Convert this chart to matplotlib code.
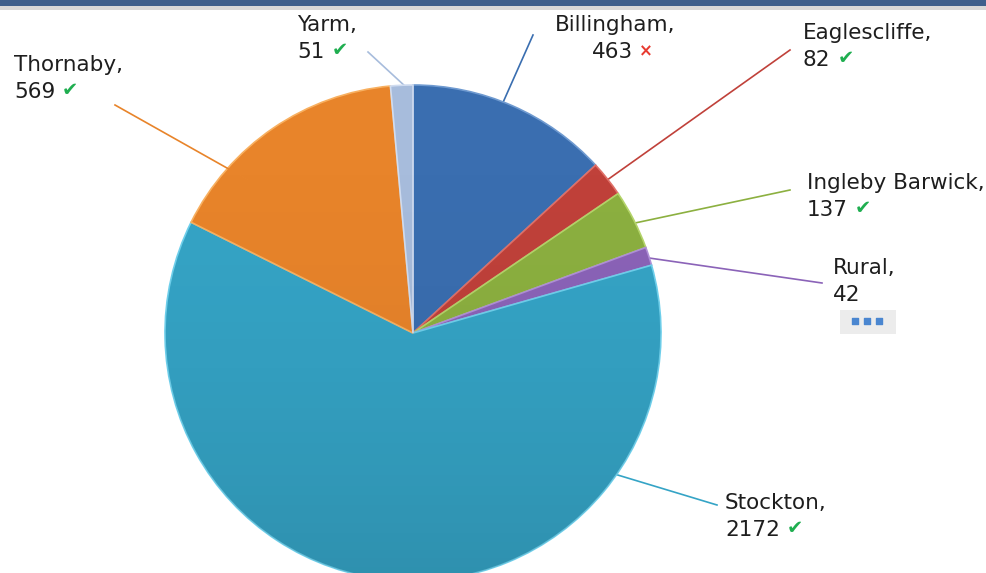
import matplotlib.pyplot as plt
import numpy as np
from matplotlib.patches import Rectangle, Circle

# данные по районам
areas = ['Billingham', 'Eaglescliffe', 'Ingleby Barwick', 'Rural', 'Stockton', 'Thornaby', 'Yarm']
counts = [463, 82, 137, 42, 2172, 569, 51]
marks = ['×', '✔', '✔', '', '✔', '✔', '✔']
colors = ['#3a6eb0', '#c0413a', '#8cb040', '#8b63b8', '#35a4c6', '#e8842a', '#a7bcdc']
edges = ['#6f9ad0', '#e07068', '#b4d46a', '#b090d8', '#6fd0ec', '#f8b060', '#d0dcf0']

W, H = 986, 573
# позиции подписей в пикселях (x слева, y центра первой строки) и начало выноски
lab_pos = [(555, 25), (803, 33), (807, 183), (833, 268), (725, 503), (14, 65), (297, 25)]
line_start = [(533, 35), (790, 50), (790, 190), (822, 283), (717, 505), (115, 105), (368, 52)]
# где выноска касается сектора: доля угла сектора и доля радиуса
line_frac = [0.45, 0.52, 0.56, 0.6, 0.228, 0.28, 0.6]
line_rad = [1.0, 1.0, 1.0, 1.0, 1.0, 0.91, 1.0]
num_dx = [37, 0, 0, 0, 0, 0, 0]

fig = plt.figure(figsize=(W / 100, H / 100), dpi=100)
ax = fig.add_axes([0, 0, 1, 1])

cx, cy, r = 413, H - 333, 248
wedges, _ = ax.pie(counts, colors=colors, startangle=90, counterclock=False,
                   center=(cx, cy), radius=r, frame=True,
                   wedgeprops={'linewidth': 1.2})
for w, ec in zip(wedges, edges):
    w.set_edgecolor(ec)
ax.set_xlim(0, W)
ax.set_ylim(0, H)
ax.set_aspect('equal')
ax.axis('off')

# лёгкое затемнение к низу круга
grad = np.linspace(0, 1, 256).reshape(-1, 1)
shade = np.zeros((256, 1, 4))
shade[..., 3] = 0.12 * grad ** 2
im = ax.imshow(shade, extent=(cx - r, cx + r, cy - r, cy + r), origin='upper',
               aspect='auto', zorder=3)
im.set_clip_path(Circle((cx, cy), r, transform=ax.transData))
ax.set_xlim(0, W)
ax.set_ylim(0, H)

# выноски
for w, (sx, sy), f, rf in zip(wedges, line_start, line_frac, line_rad):
    a = np.deg2rad(w.theta2 - f * (w.theta2 - w.theta1))
    ex, ey = cx + rf * r * np.cos(a), cy + rf * r * np.sin(a)
    ax.plot([sx, ex], [H - sy, ey], color=w.get_facecolor(), lw=1.2, zorder=0 if rf >= 1 else 4)

txt_col = '#1e1e1e'
fs = 15.5
fig.canvas.draw()
rend = fig.canvas.get_renderer()
for name, n, m, (lx, ly), dx in zip(areas, counts, marks, lab_pos, num_dx):
    ax.text(lx, H - ly, name + ',', fontsize=fs, color=txt_col, va='center', ha='left')
    t = ax.text(lx + dx, H - ly - 27, str(n), fontsize=fs, color=txt_col, va='center', ha='left')
    if m:
        bb = t.get_window_extent(renderer=rend)
        if m == '✔':
            ax.text(bb.x1 + 7, H - ly - 26, m, fontsize=14, color='#1fae50',
                    va='center', ha='left')
        else:
            ax.text(bb.x1 + 6, H - ly - 26, m, fontsize=12, color='#e83a30',
                    fontweight='bold', va='center', ha='left')

# значок "..."
ax.add_patch(Rectangle((840, H - 334), 56, 24, facecolor='#ececec', edgecolor='none', zorder=1))
ax.scatter([855, 867, 879], [H - 321] * 3, marker='s', s=22, color='#4a86d0', zorder=2)

# верхняя полоса
fig.patches.append(Rectangle((0, 1 - 10 / H), 1, 10 / H, transform=fig.transFigure,
                             facecolor='#d8d8d8', edgecolor='none'))
fig.patches.append(Rectangle((0, 1 - 6 / H), 1, 6 / H, transform=fig.transFigure,
                             facecolor='#3e5f8c', edgecolor='none'))

fig.savefig('out.png', dpi=100)
